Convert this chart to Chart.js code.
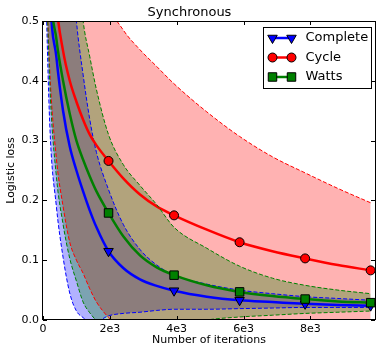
<!DOCTYPE html>
<html>
<head>
<meta charset="utf-8">
<script src="https://cdn.jsdelivr.net/npm/chart.js@4.4.1/dist/chart.umd.min.js"></script>
<style>
  html, body { margin: 0; padding: 0; background: #fff; }
</style>
</head>
<body>
<canvas id="loss" width="382" height="348"></canvas>
<script>
// iterations at which the loss curves were sampled
var iterations = [0, 200, 400, 600, 800, 1000, 1200, 1400, 1600, 1960, 2400, 2900, 3400, 3920, 4900, 5880, 6860, 7840, 8820, 9800];
// iterations that carry a marker
var markerIters = [1960, 3920, 5880, 7840, 9800];

// mean loss and band edges for each graph
var completeMean  = [1.3, 0.58, 0.44, 0.35, 0.29, 0.25, 0.215, 0.183, 0.155, 0.115, 0.087, 0.068, 0.057, 0.049, 0.039, 0.033, 0.030, 0.027, 0.025, 0.024];
var completeUpper = [3.0, 2.0, 1.3, 0.9, 0.65, 0.5, 0.41, 0.335, 0.28, 0.218, 0.16, 0.118, 0.092, 0.075, 0.06, 0.05, 0.044, 0.039, 0.036, 0.033];
var completeLower = [0.75, 0.33, 0.19, 0.105, 0.045, 0.015, 0.004, -0.004, -0.003, 0.007, 0.011, 0.013, 0.016, 0.018, 0.018, 0.019, 0.02, 0.021, 0.021, 0.021];

var cycleMean  = [1.6, 0.72, 0.53, 0.45, 0.40, 0.365, 0.335, 0.31, 0.292, 0.266, 0.237, 0.21, 0.19, 0.175, 0.151, 0.130, 0.115, 0.103, 0.092, 0.083];
var cycleUpper = [3.0, 2.4, 1.9, 1.5, 1.2, 0.98, 0.82, 0.7, 0.62, 0.53, 0.485, 0.452, 0.424, 0.395, 0.348, 0.307, 0.273, 0.246, 0.22, 0.196];
var cycleLower = [0.75, 0.42, 0.27, 0.19, 0.13, 0.1, 0.078, 0.052, 0.03, 0.004, -0.02, -0.03, -0.035, -0.038, -0.04, -0.04, -0.04, -0.038, -0.035, -0.03];

var wattsMean  = [1.5, 0.62, 0.47, 0.40, 0.345, 0.30, 0.268, 0.24, 0.215, 0.179, 0.14, 0.108, 0.088, 0.075, 0.058, 0.047, 0.040, 0.035, 0.031, 0.029];
var wattsUpper = [3.0, 2.2, 1.5, 1.05, 0.8, 0.62, 0.5, 0.44, 0.385, 0.31, 0.26, 0.225, 0.193, 0.155, 0.12, 0.09, 0.07, 0.058, 0.05, 0.044];
var wattsLower = [0.8, 0.4, 0.24, 0.16, 0.103, 0.065, 0.03, 0.012, -0.001, -0.015, -0.025, -0.025, -0.02, -0.012, 0.0, 0.005, 0.008, 0.011, 0.013, 0.015];

var xTicks = [0, 2000, 4000, 6000, 8000];
var xTickLabels = ['0', '2e3', '4e3', '6e3', '8e3'];
var yTicks = [0, 0.1, 0.2, 0.3, 0.4, 0.5];
var yTickLabels = ['0.0', '0.1', '0.2', '0.3', '0.4', '0.5'];

Chart.defaults.font.family = 'DejaVu Sans';
Chart.defaults.color = '#000';

// drawn in this order: complete underneath, watts on top
var series = [
  { name: 'Complete', mean: completeMean, upper: completeUpper, lower: completeLower,
    color: '#0000ff', band: 'rgba(0,0,255,0.3)', marker: 'triangle', rotation: 180, radius: 5.5, order: 3 },
  { name: 'Cycle', mean: cycleMean, upper: cycleUpper, lower: cycleLower,
    color: '#ff0000', band: 'rgba(255,0,0,0.3)', marker: 'circle', rotation: 0, radius: 4.5, order: 2 },
  { name: 'Watts', mean: wattsMean, upper: wattsUpper, lower: wattsLower,
    color: '#008000', band: 'rgba(0,128,0,0.3)', marker: 'rect', rotation: 0, radius: 6, order: 1 }
];

function toPoints(ys) {
  return iterations.map(function (x, i) { return { x: x, y: ys[i] }; });
}

var datasets = [];
series.forEach(function (s) {
  var base = datasets.length;
  datasets.push({
    label: s.name,
    data: toPoints(s.mean),
    borderColor: s.color,
    borderWidth: 2.5,
    fill: false,
    cubicInterpolationMode: 'monotone',
    pointStyle: s.marker,
    rotation: s.rotation,
    pointBackgroundColor: s.color,
    pointBorderColor: '#000',
    pointBorderWidth: 1,
    pointRadius: function (ctx) {
      return markerIters.indexOf(iterations[ctx.dataIndex]) >= 0 ? s.radius : 0;
    },
    order: s.order
  });
  datasets.push({
    label: s.name + ' upper',
    data: toPoints(s.upper),
    borderColor: s.color,
    borderWidth: 1,
    borderDash: [4, 2],
    pointRadius: 0,
    cubicInterpolationMode: 'monotone',
    fill: base + 2,
    backgroundColor: s.band,
    order: s.order
  });
  datasets.push({
    label: s.name + ' lower',
    data: toPoints(s.lower),
    borderColor: s.color,
    borderWidth: 1,
    borderDash: [4, 2],
    pointRadius: 0,
    cubicInterpolationMode: 'monotone',
    fill: false,
    order: s.order
  });
});

// white page behind everything
var background = {
  id: 'background',
  beforeDraw: function (chart) {
    var ctx = chart.ctx;
    ctx.save();
    ctx.fillStyle = '#fff';
    ctx.fillRect(0, 0, chart.width, chart.height);
    ctx.restore();
  }
};

// box round the plot with inward ticks on all four sides
var frame = {
  id: 'frame',
  afterDatasetsDraw: function (chart) {
    var a = chart.chartArea, ctx = chart.ctx;
    var xs = chart.scales.x, ys = chart.scales.y;
    ctx.save();
    ctx.strokeStyle = '#000';
    ctx.lineWidth = 1;
    ctx.beginPath();
    xTicks.forEach(function (v) {
      var px = Math.round(xs.getPixelForValue(v)) + 0.5;
      ctx.moveTo(px, a.bottom); ctx.lineTo(px, a.bottom - 4);
      ctx.moveTo(px, a.top); ctx.lineTo(px, a.top + 4);
    });
    yTicks.forEach(function (v) {
      var py = Math.round(ys.getPixelForValue(v)) + 0.5;
      ctx.moveTo(a.left, py); ctx.lineTo(a.left + 4, py);
      ctx.moveTo(a.right, py); ctx.lineTo(a.right - 4, py);
    });
    ctx.stroke();
    ctx.strokeRect(Math.round(a.left) - 0.5, Math.round(a.top) + 0.5,
      Math.round(a.right - a.left) + 1, Math.round(a.bottom - a.top) - 1);
    ctx.restore();
  }
};

// legend box: line with two markers, then the name
var legendBox = {
  id: 'legendBox',
  afterDraw: function (chart) {
    var a = chart.chartArea, ctx = chart.ctx;
    var w = 108, h = 61;
    var left = Math.round(a.right - 4 - w) + 0.5, top = Math.round(a.top + 6) + 0.5;
    ctx.save();
    ctx.fillStyle = '#fff';
    ctx.fillRect(left, top, w, h);
    ctx.strokeStyle = '#000';
    ctx.lineWidth = 1;
    ctx.strokeRect(left, top, w, h);
    series.forEach(function (s, i) {
      var y = top + 10.5 + i * 19.5;
      ctx.strokeStyle = s.color;
      ctx.lineWidth = 2.5;
      ctx.setLineDash([]);
      ctx.beginPath();
      ctx.moveTo(left + 9, y);
      ctx.lineTo(left + 28, y);
      ctx.stroke();
      [left + 9, left + 28].forEach(function (mx) {
        ctx.fillStyle = s.color;
        ctx.strokeStyle = '#000';
        ctx.lineWidth = 1;
        Chart.helpers.drawPoint(ctx, {
          pointStyle: s.marker, radius: s.radius, rotation: s.rotation, borderWidth: 1
        }, mx, y);
      });
      ctx.fillStyle = '#000';
      ctx.font = '13px "DejaVu Sans"';
      ctx.textBaseline = 'middle';
      ctx.textAlign = 'left';
      ctx.fillText(s.name, left + 42, y);
    });
    ctx.restore();
  }
};

new Chart(document.getElementById('loss').getContext('2d'), {
  type: 'line',
  data: { datasets: datasets },
  plugins: [background, frame, legendBox],
  options: {
    responsive: false,
    animation: false,
    layout: { padding: { top: 0, right: 3, bottom: 0, left: 0 } },
    plugins: {
      legend: { display: false },
      tooltip: { enabled: false },
      filler: { drawTime: 'beforeDatasetsDraw' },
      title: {
        display: true,
        text: 'Synchronous',
        font: { size: 13, weight: 'normal' },
        color: '#000',
        padding: { top: 5, bottom: 0.4 }
      }
    },
    scales: {
      x: {
        type: 'linear',
        min: 0,
        max: 9930,
        afterBuildTicks: function (scale) {
          scale.ticks = xTicks.map(function (v) { return { value: v }; });
        },
        afterFit: function (scale) { scale.height = 28; },
        ticks: {
          autoSkip: false,
          maxRotation: 0,
          padding: 3,
          font: { size: 11 },
          color: '#000',
          callback: function (v) { return xTickLabels[xTicks.indexOf(v)]; }
        },
        grid: { display: false, drawTicks: false },
        border: { display: false },
        title: {
          display: true,
          text: 'Number of iterations',
          font: { size: 11 },
          color: '#000',
          padding: { top: 0, bottom: 1 }
        }
      },
      y: {
        min: 0,
        max: 0.5,
        afterBuildTicks: function (scale) {
          scale.ticks = yTicks.map(function (v) { return { value: v }; });
        },
        afterFit: function (scale) { scale.width = 43; },
        ticks: {
          padding: 4,
          font: { size: 11 },
          color: '#000',
          callback: function (v) {
            for (var i = 0; i < yTicks.length; i++) {
              if (Math.abs(yTicks[i] - v) < 1e-9) return yTickLabels[i];
            }
            return '';
          }
        },
        grid: { display: false, drawTicks: false },
        border: { display: false },
        title: {
          display: true,
          text: 'Logistic loss',
          font: { size: 11 },
          color: '#000',
          padding: { top: 5, bottom: 0 }
        }
      }
    }
  }
});
</script>
</body>
</html>
